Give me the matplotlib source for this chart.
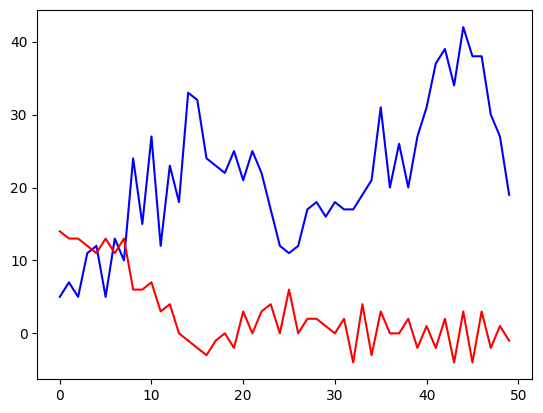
import numpy as np
from matplotlib import pyplot as plt

x = np.arange(50)
blue_vals = [5, 7, 5, 11, 12, 5, 13, 10, 24, 15, 27, 12, 23, 18, 33, 32, 24, 23, 22, 25,
             21, 25, 22, 17, 12, 11, 12, 17, 18, 16, 18, 17, 17, 19, 21, 31, 20, 26, 20, 27,
             31, 37, 39, 34, 42, 38, 38, 30, 27, 19]
red_vals = [14, 13, 13, 12, 11, 13, 11, 13, 6, 6, 7, 3, 4, 0, -1, -2, -3, -1, 0, -2,
            3, 0, 3, 4, 0, 6, 0, 2, 2, 1, 0, 2, -4, 4, -3, 3, 0, 0, 2, -2,
            1, -2, 2, -4, 3, -4, 3, -2, 1, -1]

fig = plt.figure(figsize=(5.43, 4.13), dpi=100)
fig.subplots_adjust(left=0.0687, right=0.979, top=0.975, bottom=0.0816)
ax = fig.add_subplot(111)
ax.plot(x, blue_vals, color="blue")
ax.plot(x, red_vals, color="red")

fig.savefig("out.png")
